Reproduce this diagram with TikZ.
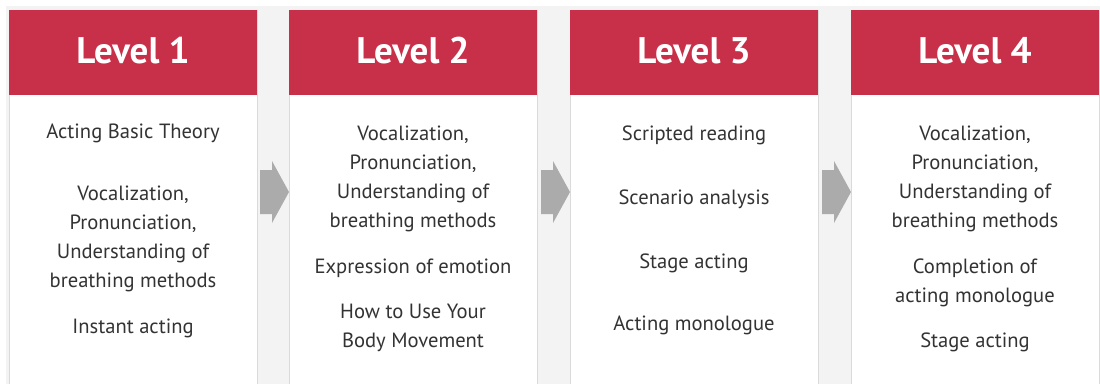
\documentclass[tikz,border=0pt]{standalone}
\usepackage{fontspec}
\setmainfont{PT Sans}
\usetikzlibrary{calc}
\definecolor{levelred}{HTML}{C8304A}
\definecolor{pagegray}{HTML}{F3F3F3}
\definecolor{cardline}{HTML}{DADADA}
\definecolor{arrowgray}{HTML}{ABABAB}
\definecolor{itemtext}{HTML}{333333}
\tikzset{
  cardbody/.style={draw=cardline, fill=white, inner sep=0pt},
  cardhead/.style={fill=levelred, inner sep=0pt},
  headtext/.style={text=white, font=\fontsize{37}{37}\selectfont\bfseries, inner sep=0pt},
  item/.style={text=itemtext, align=center, inner sep=0pt, font=\fontsize{20.6}{29}\selectfont}
}
\newcommand{\levelCard}[3]{%
  \begin{scope}[shift={(#2, 0)}]%
    \def\cardwidth{248}
    \def\headheight{85}

    \node[cardbody, minimum width=\cardwidth, minimum height=390, anchor=north west]
      (#1) at (0, -10) {};
    \node[cardhead, minimum width=\cardwidth, minimum height=\headheight, anchor=north west]
      (#1head) at (0, -10) {};

    \node[headtext, anchor=base]
      (#1title) at (\cardwidth/2, -63)
      {#3};
  \end{scope}%
}
\newcommand{\stepArrow}[2]{%
  \begin{scope}[shift={(#1, #2)}]%
    \fill[arrowgray] (0, 22) -- (12, 22) -- (12, 31) -- (29, 0)
      -- (12, -31) -- (12, -22) -- (0, -22) -- cycle;
  \end{scope}%
}
\begin{document}
\begin{tikzpicture}[x=1pt, y=1pt]
  \useasboundingbox (0, 0) rectangle (1100, -383);
  \fill[pagegray] (6, -6) rectangle (1100, -390);

  % Cards
  \levelCard{lvl1}{9}{Level 1}
  \levelCard{lvl2}{289}{Level 2}
  \levelCard{lvl3}{570}{Level 3}
  \levelCard{lvl4}{851}{Level 4}

  % Arrows between the cards
  \stepArrow{260}{-192}
  \stepArrow{541}{-192}
  \stepArrow{822}{-192}

  % Level 1 (base = last line)
  \node[item, anchor=base] (lvl1a) at (133, -138) {Acting Basic Theory};
  \node[item, anchor=base] (lvl1b) at (133, -287)
    {Vocalization,\\Pronunciation,\\Understanding of\\breathing methods};
  \node[item, anchor=base] (lvl1c) at (133, -333) {Instant acting};

  % Level 2
  \node[item, anchor=base] (lvl2a) at (413, -227)
    {Vocalization,\\Pronunciation,\\Understanding of\\breathing methods};
  \node[item, anchor=base] (lvl2b) at (413, -273) {Expression of emotion};
  \node[item, anchor=base] (lvl2c) at (413, -347) {How to Use Your\\Body Movement};

  % Level 3
  \node[item, anchor=base] (lvl3a) at (694, -140) {Scripted reading};
  \node[item, anchor=base] (lvl3b) at (694, -204) {Scenario analysis};
  \node[item, anchor=base] (lvl3c) at (694, -268) {Stage acting};
  \node[item, anchor=base] (lvl3d) at (694, -330) {Acting monologue};

  % Level 4
  \node[item, anchor=base] (lvl4a) at (975, -227)
    {Vocalization,\\Pronunciation,\\Understanding of\\breathing methods};
  \node[item, anchor=base] (lvl4b) at (975, -302) {Completion of\\acting monologue};
  \node[item, anchor=base] (lvl4c) at (975, -347) {Stage acting};
\end{tikzpicture}
\end{document}
